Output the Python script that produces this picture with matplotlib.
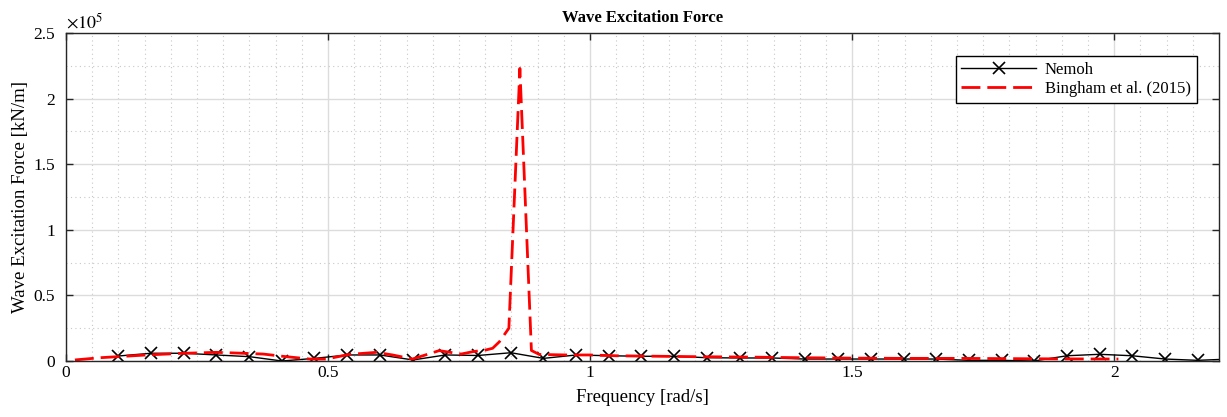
import numpy as np
import matplotlib
matplotlib.use('Agg')
import matplotlib.pyplot as plt
from matplotlib.ticker import MultipleLocator, FuncFormatter

plt.rcParams['font.family'] = ['Liberation Serif', 'DejaVu Serif']
plt.rcParams['mathtext.fontset'] = 'stix'

# Nemoh results [kN/m]
nemoh_freq = [0.100, 0.162, 0.225, 0.287, 0.350, 0.412, 0.474, 0.537, 0.599, 0.662,
              0.724, 0.786, 0.849, 0.911, 0.974, 1.036, 1.098, 1.161, 1.223, 1.286,
              1.348, 1.410, 1.473, 1.535, 1.598, 1.660, 1.722, 1.785, 1.847, 1.910,
              1.972, 2.034, 2.097, 2.159, 2.222]
nemoh_force = [3800, 5900, 5900, 4600, 3300, 0, 2000, 4600, 4600, 800,
               4600, 4200, 6300, 2000, 4600, 4000, 3600, 3600, 2500, 2300,
               2300, 1500, 1500, 1500, 1500, 1500, 500, 500, 0, 4000,
               5100, 4000, 1500, 500, 1500]

# Bingham et al. (2015) [kN/m]
bing_freq = [0.017, 0.065, 0.154, 0.220, 0.287, 0.344, 0.376, 0.420, 0.465, 0.497,
             0.540, 0.592, 0.623, 0.661, 0.712, 0.754, 0.776, 0.801, 0.814, 0.827,
             0.845, 0.866, 0.888, 0.903, 0.954, 0.998, 1.049, 1.087, 1.200, 1.300,
             1.400, 1.500, 1.600, 1.700, 1.800, 1.900, 2.008]
bing_force = [800, 2500, 4600, 5800, 6600, 5800, 5300, 3300, 1500, 1500,
              5000, 6600, 4600, 1500, 7900, 5300, 7100, 8400, 9700, 14700,
              25000, 223000, 8000, 5000, 4600, 4600, 4000, 3800, 3300, 3000,
              2500, 2200, 2000, 2000, 1800, 1600, 1500]

fig = plt.figure(figsize=(12.27, 4.17), dpi=100)
ax = fig.add_axes([0.0538, 0.1343, 0.9397, 0.7866])

ax.plot(nemoh_freq, nemoh_force, color='black', lw=1.0, marker='x', ms=9,
        mew=1.2, label='Nemoh')
ax.plot(bing_freq, bing_force, color='red', lw=2.0, ls=(0, (6.8, 2.5)),
        label='Bingham et al. (2015)')

ax.set_xlim(0, 2.2)
ax.set_ylim(0, 2.5e5)
ax.xaxis.set_major_locator(MultipleLocator(0.5))
ax.xaxis.set_minor_locator(MultipleLocator(0.05))
ax.yaxis.set_major_locator(MultipleLocator(0.5e5))
ax.yaxis.set_minor_locator(MultipleLocator(0.25e5))
ax.xaxis.set_major_formatter(FuncFormatter(lambda v, _: f'{v:g}'))
ax.yaxis.set_major_formatter(FuncFormatter(lambda v, _: f'{v / 1e5:g}'))

ax.grid(which='major', color='#dcdcdc', lw=1.0, ls='-')
ax.grid(which='minor', color='#c8c8c8', lw=0.8, ls=(0, (1, 3)))
ax.set_axisbelow(True)
ax.tick_params(which='major', direction='in', length=5, top=True, right=True,
               labelsize=12.5, color='#262626', width=1.0)
ax.tick_params(axis='x', which='major', pad=3)
ax.tick_params(axis='y', which='major', pad=8)
ax.tick_params(which='minor', length=0)
for s in ax.spines.values():
    s.set_color('#262626')
    s.set_linewidth(1.0)

ax.text(0.0, 1.003, r'$\times 10^5$', transform=ax.transAxes, fontsize=13,
        ha='left', va='bottom')

ax.set_title('Wave Excitation Force', fontsize=12, fontweight='bold', pad=8)
ax.set_xlabel('Frequency [rad/s]', fontsize=13.5, labelpad=6)
ax.set_ylabel('Wave Excitation Force [kN/m]', fontsize=13.5, labelpad=3)

leg = ax.legend(loc='upper right', bbox_to_anchor=(0.9805, 0.93), fontsize=12,
                fancybox=False, framealpha=1, edgecolor='black',
                handlelength=4.5, borderpad=0.35, labelspacing=0.2,
                handletextpad=0.5, borderaxespad=0)
leg.get_frame().set_linewidth(1.0)

fig.savefig('out.png', dpi=100)
